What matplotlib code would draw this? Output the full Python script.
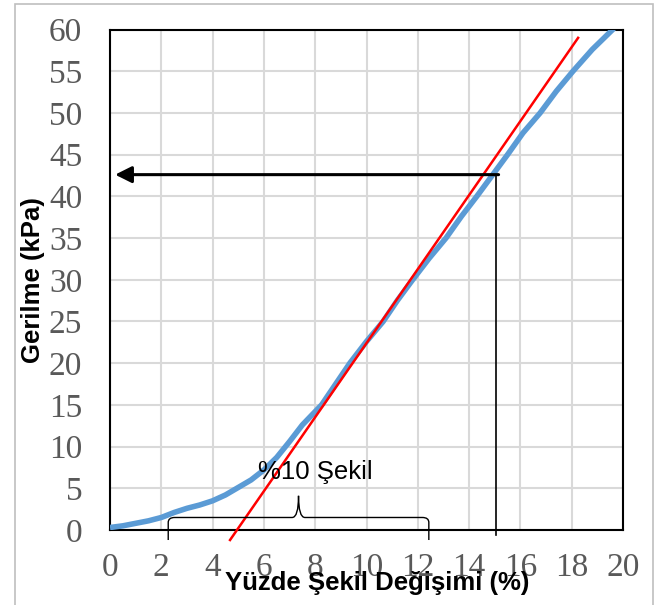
import matplotlib.pyplot as plt
from matplotlib.patches import Rectangle, PathPatch
from matplotlib.path import Path

# measured curve (strain %, stress kPa)
strain = [0, 0.5, 1, 1.5, 2, 2.5, 3, 3.5, 4, 4.5, 5, 5.5, 6, 6.5, 7, 7.5,
          8, 8.25, 8.8, 9.35, 10.0, 10.65, 11.2, 11.8, 12.45, 13.1, 13.7, 14.3, 14.9,
          15.5, 16.1, 16.77, 17.4, 18.05, 18.8, 19.6, 19.75]
stress = [0.3, 0.5, 0.8, 1.1, 1.5, 2.1, 2.6, 3.0, 3.5, 4.2, 5.1, 6.0, 7.2, 8.7, 10.6, 12.6,
          14.2, 15.0, 17.5, 20.0, 22.6, 25.0, 27.5, 30.0, 32.6, 35.0, 37.6, 40.0, 42.5,
          45.0, 47.6, 50.0, 52.6, 55.0, 57.6, 60.0, 60.6]

# tangent line
tangent_x = [4.68, 18.25]
tangent_y = [-1.2, 59.0]

# readout at 15 %
read_x = 15.05
read_y = 42.6
arrow_end_x = 0.2

# brace for "%10 Şekil"
brace_left, brace_right = 2.27, 12.43
brace_bottom, brace_y, brace_tip = -1.2, 1.5, 4.1
brace_label = '%10 Şekil'

xticks = list(range(0, 21, 2))
yticks = list(range(0, 61, 5))

fig = plt.figure(figsize=(6.62, 6.05), dpi=100)
fig.patches.append(Rectangle((15 / 662, -0.1), (653 - 15) / 662, 1.1 - 4 / 605,
                             transform=fig.transFigure, fill=False,
                             edgecolor='#bfbfbf', linewidth=1.2))
ax = fig.add_axes([110 / 662, 1 - 530 / 605, 513 / 662, 500.5 / 605])

ax.plot(strain, stress, color='#5b9bd5', linewidth=4, solid_capstyle='butt', zorder=3)
ax.plot(tangent_x, tangent_y, color='#ff0000', linewidth=1.8, clip_on=False, zorder=4)

# readout lines
ax.plot([read_x, read_x], [-0.6, read_y], color='black', linewidth=1.2, clip_on=False, zorder=5)
ax.annotate('', xy=(arrow_end_x, read_y), xytext=(read_x + 0.1, read_y),
            arrowprops=dict(arrowstyle='-|>', color='black', lw=2.2,
                            mutation_scale=25, shrinkA=0, shrinkB=0), zorder=5)

# curly brace
mid = (brace_left + brace_right) / 2
r = 0.25
verts = [(brace_left, brace_bottom), (brace_left, brace_y - 0.6),
         (brace_left, brace_y), (brace_left + r, brace_y),
         (mid - r, brace_y), (mid, brace_y), (mid, brace_tip),
         (mid, brace_y), (mid + r, brace_y),
         (brace_right - r, brace_y), (brace_right, brace_y), (brace_right, brace_y - 0.6),
         (brace_right, brace_bottom)]
codes = [Path.MOVETO, Path.LINETO, Path.CURVE3, Path.CURVE3,
         Path.LINETO, Path.CURVE3, Path.CURVE3,
         Path.CURVE3, Path.CURVE3,
         Path.LINETO, Path.CURVE3, Path.CURVE3, Path.LINETO]
ax.add_patch(PathPatch(Path(verts, codes), fill=False, edgecolor='black',
                       linewidth=1.0, clip_on=False, zorder=5))
ax.text(8.0, 7.0, brace_label, ha='center', va='center', fontsize=18.5,
        family='Liberation Sans', zorder=6)

ax.set_xlim(0, 20)
ax.set_ylim(0, 60)
ax.set_xticks(xticks)
ax.set_yticks(yticks)
ax.grid(True, color='#d9d9d9', linewidth=1.5)
ax.set_axisbelow(True)
for s in ax.spines.values():
    s.set_color('black')
    s.set_linewidth(1.5)
ax.tick_params(length=0, labelsize=24, labelcolor='#595959')
ax.tick_params(axis='y', pad=20)
ax.tick_params(axis='x', pad=16)
for lab in ax.get_xticklabels() + ax.get_yticklabels():
    lab.set_family('Liberation Serif')

ax.set_xlabel('Yüzde Şekil Değişimi (%)', fontsize=18.5, fontweight='bold',
              family='Liberation Sans')
ax.xaxis.set_label_coords(0.52, -0.082)
ax.set_ylabel('Gerilme (kPa)', fontsize=18.5, fontweight='bold',
              family='Liberation Sans')
ax.yaxis.set_label_coords(-0.127, 0.5)

fig.savefig('out.png', dpi=100)
